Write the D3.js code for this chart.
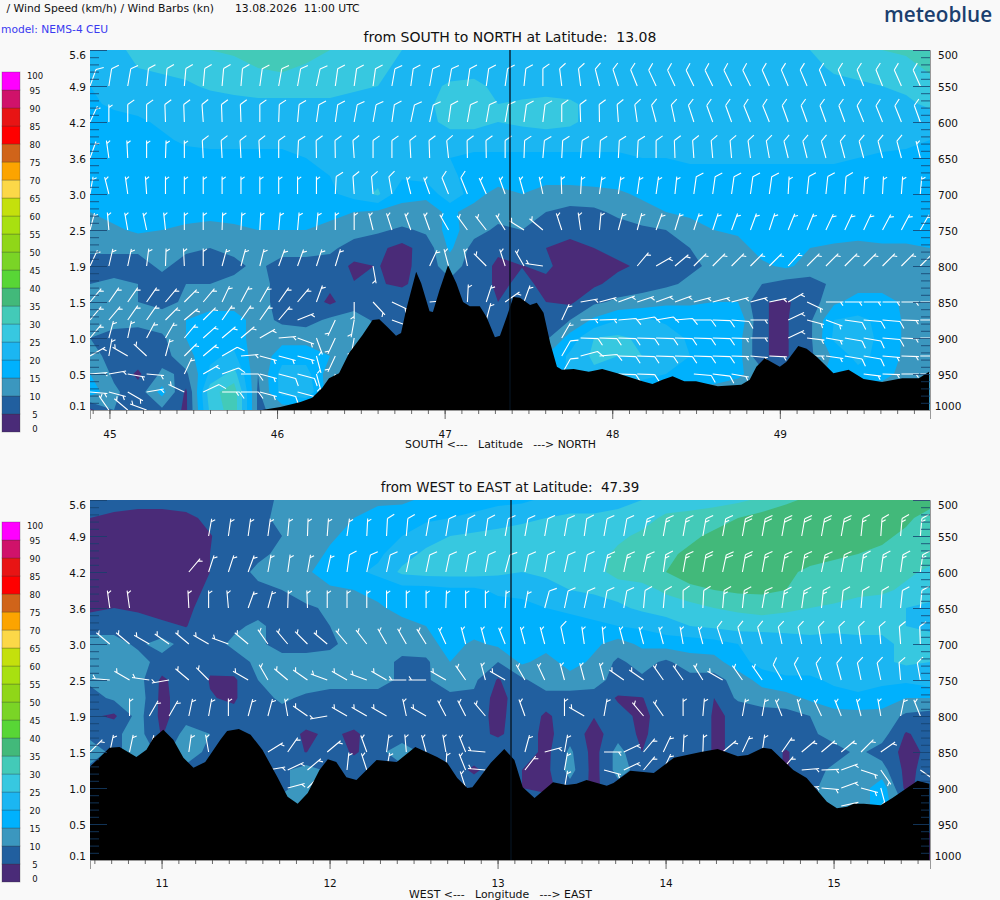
<!DOCTYPE html>
<html>
<head>
<meta charset="utf-8">
<script src="https://cdn.jsdelivr.net/npm/d3@7"></script>
<style>
html, body { margin: 0; padding: 0; background: #f9f9f9; }
text { font-family: "DejaVu Sans", sans-serif; fill: #111; white-space: pre; }
</style>
</head>
<body>
<div id="mainDiv"></div>
<script>
const _ = null;

// legend classes, km/h
const legendLabels = [100, 95, 90, 85, 80, 75, 70, 65, 60, 55, 50, 45, 40, 35, 30, 25, 20, 15, 10, 5, 0];
const bandEdges = [5, 10, 15, 20, 25, 30, 35, 40, 45, 50, 55, 60, 65, 70, 75, 80, 85, 90, 95];
const bandColors = ["#4a2b78", "#215f9f", "#3b97bf", "#00b1fd", "#1bb6f2", "#37c8e0", "#43cab8", "#42b97a", "#58d636", "#7ad426",
  "#90d618", "#a8e010", "#c4e00c", "#fcd848", "#fca400", "#d0641a", "#ff0000", "#e81414", "#d0126a", "#ff00ff"];

// axes
const pressureTicks = [500, 550, 600, 650, 700, 750, 800, 850, 900, 950, 1000];
const heightTicks = ["5.6", "4.9", "4.2", "3.6", "3.0", "2.5", "1.9", "1.5", "1.0", "0.5", "0.1"];
const latTicks = [45, 46, 47, 48, 49];
const lonTicks = [11, 12, 13, 14, 15];

// wind speed km/h, one row per 25 hPa from 500 down, one column per 0.143 deg
const nsSpeed = [
  [22,24,26,27,28,30, 31,32,33,33,30,28, 27,25,23,22,21,21, 20,20,20,20,21,22, 22,22,22,22,22,23, 25,27,28,30,31,33],
  [21,22,25,26,27,27, 28,30,31,29,28,27, 26,24,23,22,22,22, 22,22,22,22,22,22, 22,22,22,22,22,22, 23,26,27,27,28,31],
  [20,21,22,23,24,26, 27,27,27,27,27,26, 25,23,23,26,27,23, 22,22,22,22,22,22, 22,22,22,22,22,22, 22,23,24,25,26,28],
  [19,21,22,22,22,22, 23,24,24,24,24,23, 23,23,24,27,27,25, 26,27,26,23,22,22, 22,22,22,22,22,22, 22,22,22,23,24,26],
  [18,18,19,21,22,22, 22,22,22,22,22,22, 22,22,23,27,27,25, 26,27,26,23,22,22, 22,22,22,22,22,22, 22,22,22,22,22,22],
  [17,17,18,19,21,21, 21,21,21,22,22,22, 22,22,22,22,22,22, 22,22,22,22,22,22, 22,22,22,22,22,22, 22,22,22,22,21,20],
  [17,17,17,17,18,19, 19,19,19,20,22,22, 22,22,22,20,19,19, 19,19,19,19,19,20, 20,21,21,21,21,21, 21,21,20,19,19,18],
  [17,17,17,17,17,17, 17,17,17,17,20,22, 23,21,22,21,18,18, 18,18,18,18,18,18, 18,18,18,18,18,18, 18,18,18,18,18,17],
  [17,17,17,17,17,17, 17,17,17,17,19,22, 26,16,16,24,17,13, 15,12,12,13,14,16, 18,19,19,19,19,18, 19,19,18,18,18,18],
  [15,17,18,18,17,16, 17,18,18,18,16,15, 14,14,13,16,13,12, 12,10,9,9,11,13, 15,16,18,18,18,18, 18,18,18,18,18,18],
  [13,14,16,15,14,14, 14,15,15,15,14,12, 11,9,11,17,12,9, 10,8,7,8,8,9, 10,13,15,16,18,18, 18,18,18,18,18,18],
  [11,11,11,11,11,10, 11,12,12,12,11,8, 6,3.5,7,16,8,6, 8,5,3,5,7,7, 8,10,12,13,17,17, 15,14,13,14,14,15],
  [8,8,8,11,8,8, 9,11,8,8,8,4, 5.2,3,8,12,8,4, 4.9,5.8,3,3,4,6, 8,9,11,12,14,16, 13,13,13,13,13,13],
  [10,11,10,8,10,10, 11,11,9,8,6,5.2, 5.5,4,8,9,8,4, 6,4,3,4,7,8, 9,11,12,13,10,8, 8,11,13,13,13,13],
  [11,11,10,8,11,12, 12,12,8,8,4,8, 8,9,8,8,8,5, 8,5,4,9,11,12, 14,14,15,15,5.2,4.5, 7,14,17,17,14,13],
  [12,12,12,13,15,18, 18,12,9,8,11,12, 9,9,9,9,9,5, 9,9,10,16,20,21, 19,19,19,19,5.2,4.5, 9,20,21,19,14,13],
  [10,8,7,9,15,18, 18,12,13,13,13,13, 11,10,10,10,10,9, 9,9,17,25,26,24, 23,19,19,17,5.2,4.5, 9,21,22,19,14,13],
  [11,9,8,8,13,19, 21,11,18,18,15,12, 12,12,12,12,12,12, 12,15,21,26,25,25, 22,20,19,17,5.2,4.5, 9,16,22,18,14,13],
  [15,9,4,11,9,21, 27,10,22,22,12,12, 12,12,12,12,12,12, 12,12,22,24,24,24, 20,19,19,16,12,12, 12,17,18,17,13,13],
  [18,11,7,17,4,28, 33,9,22,24,12,12, 12,12,12,12,12,12, 12,12,12,12,12,12, 12,12,12,12,12,12, 12,12,12,12,12,12],
  [4,10,8,9,4,26, 33,9,12,12,12,12, 12,12,12,12,12,12, 12,12,12,12,12,12, 12,12,12,12,12,12, 12,12,12,12,12,12]
];

const weSpeed = [
  [7,7,7,7,7,7, 7,8,11,12,12,13, 14,14,16,18,18,19, 19,21,22,22,23,25, 27,27,28,29,31,34, 36,37,37,37,37,37],
  [5,4,3,3,4,6, 7,8,12,12,13,15, 17,18,19,20,21,22, 24,25,26,26,27,28, 31,32,33,35,37,38, 38,38,39,39,36,33],
  [3,3,3,3,3,4.8, 7,8,10,12,14,17, 18,20,23,25,26,27, 27,27,28,28,29,31, 33,34,36,37,38,38, 38,38,37,36,34,33],
  [3,3,3,3,3,5, 7,9,11,12,16,18, 19,23,26,27,27,27, 27,27,27,28,31,33, 34,36,37,38,38,38, 37,36,35,34,33,32],
  [3,3,3,3,3,5, 8,11,12,14,18,19, 21,26,27,27,27,26, 25,26,27,28,32,33, 35,37,38,38,37,36, 34,33,32,32,31,29],
  [3,3,3,3,3,6, 8,9,10,13,14,15, 17,18,18,19,19,21, 22,23,25,26,27,28, 31,34,35,36,36,35, 34,33,32,31,29,27],
  [4,5,4,3,4,7, 8,8,8,9,11,12, 14,17,18,18,18,18, 18,20,21,22,24,26, 27,28,30,31,32,31, 30,29,27,27,25,24],
  [8,8,8,6,4.8,8, 9,11,8,9,10,11, 12,13,15,17,18,18, 18,18,18,19,20,21, 23,25,26,27,27,27, 28,27,27,26,25,24],
  [12,12,9,12,8,8, 11,11,8,8,9,12, 12,12,13,17,14,16, 16,17,19,16,13,16, 17,17,18,20,21,22, 22,22,23,24,26,27],
  [12,13,12,8,8,5.6, 8,11,12,12,12,12, 12,9,9,15,12,10, 16,13,17,14,9,12, 9,13,13,18,22,23, 23,23,23,24,26,25],
  [11,12,12,4,8,4.8, 4.2,10,12,13,12,12, 12,9,9,14,11,4.5, 9,13,13,12,8,9, 9,8,8,12,17,19, 19,21,22,21,21,23],
  [8,11,13,3.5,8,5.2, 4.5,8,11,9,8,8, 8,8,8,8,9,3, 8,8,8,8,4.5,4.8, 8,8,5,11,12,13, 16,18,19,18,15,15],
  [6,4,12,3.5,8,8, 6,8,8,8,7,8, 8,8,8,8,8,3, 9,4,8,5.2,6.5,4, 7,9,4.5,5.6,8,8, 10,13,13,13,9,8],
  [9,9,12,4.5,12,10, 8,8,8,4,6,4, 8,8,8,8,7,4, 8,3.5,8,3,8,4, 8,9,4.5,5.6,9,8, 9,12,12,12,4.5,7],
  [12,9,12,9,12,9, 8,8,8,4.8,9,4, 9,12,9,7,8,9, 8,3.5,11,3,12,5, 8,9,4.5,5.6,8,4.5, 8,8,11,8,3.5,6],
  [9,9,9,9,9,9, 9,9,9,12,9,9, 9,9,9,8,4,8, 5,3.5,12,3,12,8, 8,8,8,8,8,4.5, 8,11,12,12,3.5,7],
  [9,9,9,9,9,9, 9,9,9,12,9,9, 9,9,9,8,8,8, 5,3.5,8,4,8,8, 8,8,8,8,8,8, 9,12,12,18,3.5,8],
  [9,9,9,9,9,9, 9,9,12,12,9,9, 9,9,9,9,9,9, 9,9,9,9,9,9, 9,9,9,9,9,9, 9,12,12,18,9,9],
  [9,9,9,9,9,9, 9,9,9,9,9,9, 9,9,9,9,9,9, 9,9,9,9,9,9, 9,9,9,9,9,9, 9,9,9,9,9,9]
];

// barb staff direction in degrees, 0 = staff points up, by pressure level
const barbLevels = [550, 600, 650, 700, 750, 800, 850, 875, 900, 925, 950, 975, 1000];
const nsBarbs = [
  [20,9,10,6,5,5,5,5,5,8,10,10,12, 8,8,8,10,8,10,10,8,8,8,6,0,-7,-7,-14,-18,-22,-25, -25,-26,-26,-26,-26,-24,-23,-23,-22,-22,-22,-22,-24,-24],
  [25,0,0,0,-2,-2,-4,-2,-2,0,2,5,8, 8,10,10,8,12,12,8,10,10,10,8,7,0,-2,-1,-4,-8,-15, -12,-18,-20,-20,-22,-22,-20,-20,-20,-20,-22,-22,-22,-20],
  [20,-8,-3,0,2,0,-3,-3,-3,-3,0,3,-1, -1,-4,0,0,-3,-2,-6,-1,-1,0,2,5,3,5,3,3,3,0, -2,-4,-5,-5,-8,-10,-14,-14,-15,-15,-15,-15,-15,-14],
  [10,-14,-8,-4,0,0,0,0,0,0,0,0,0, 3,-4,-5,-10,-14,-20,-22,-22,-24,-20,-16,-12,-2,3,8,8,8,8, 6,8,8,8,8,8,3,6,6,4,4,3,4,5],
  [15,-5,-10,-12,-6,0,0,2,3,3,5,5,5, 0,0,-14,-18,-20,-20,-30,-36,-38,-32,-58,-50,-18,-8,5,15,15,20, 17,18,18,20,20,18,22,22,25,25,25,28,28,30],
  [25,13,12,7,2,-3,0,15,15,14,20,20,18, 17,_,170,_,_,25,-15,-12,-45,-18,-30,-82,_,_,_,_,40,60, 50,45,45,45,45,45,42,45,45,45,45,45,45,45],
  [40,35,35,35,40,45,40,25,28,30,35,40,20, _,180,137,115,_,85,_,3,18,55,20,_,_,80,75,70,72,70, 70,75,75,75,75,78,60,115,90,90,90,90,90,90],
  [40,40,35,35,45,50,45,35,35,35,40,68,_, 205,190,_,110,_,_,_,_,15,_,_,_,25,88,88,85,80,80, 85,90,92,95,90,_,65,105,110,98,95,95,92,90],
  [40,15,12,28,30,40,48,50,50,60,85,110,160, 205,190,_,_,_,_,_,_,_,_,_,_,30,92,92,92,92,92, 92,92,92,92,90,_,65,97,100,100,100,95,93,90],
  [60,10,-60,-47,15,45,50,60,85,105,105,105,165, 205,190,_,_,_,_,_,_,_,_,_,_,30,75,85,92,92,92, 92,92,92,92,95,93,_,90,98,100,100,95,92,90],
  [85,80,100,95,_,25,60,70,90,105,105,105,165, 200,_,_,_,_,_,_,_,_,_,_,_,30,_,_,92,92,_, _,95,97,100,_,_,_,_,_,_,97,92,90,90],
  [95,105,120,80,_,-65,65,90,90,105,105,105,_, _,_,_,_,_,_,_,_,_,_,_,_,_,_,_,_,_,_, _,_,_,_,_,_,_,_,_,_,_,_,_,_],
  [-30,-35,-50,-70,_,_,_,_,_,_,_,_,_, _,_,_,_,_,_,_,_,_,_,_,_,_,_,_,_,_,_, _,_,_,_,_,_,_,_,_,_,_,_,_,_]
];
const weBarbs = [
  [_,_,_,_,_,_, 10,8,8,8,5,2,4, 8,3,3,5,10,10,8,8,10,10,10,10,8,10,10,12,10, 10,10,10,10,10,10,10,10,10,6,4,5,5],
  [_,_,_,_,_,40,18,18,20,10,8,10,12, 8,12,12,12,12,12,10,10,15,12,10,12,10,12,12,12,8, 10,10,12,10,10,10,10,12,10,8,8,8,8],
  [_,-8,-8,_,_,-3,0,-5,20,15,2,-2,0, 0,0,0,0,0,2,0,0,3,10,15,12,12,10,10,5,5, 0,3,5,6,10,8,8,6,6,5,4,6,5],
  [_,-50,-50,-60,-55,-50,-60,-70,-50,-35,-40,-45,-50, -40,-38,-30,-30,-32,-25,-15,-15,-22,-15,-15,-12,-8,-6,-15,-15,-15, -10,-15,-18,-15,-15,-12,-12,-10,-8,-8,-5,-4,-2],
  [_,-85,-60,-82,-100,-50,-45,_,-60,-30,-50,-55,-70, -60,-70,-60,-90,-90,-60,-35,-15,-60,-30,-25,-15,-15,-15,-55,-55,-35, -35,-32,-60,-35,-35,-30,-25,-18,-15,-12,-12,-5,-10],
  [_,_,0,30,30,12,10,0,15,15,-10,-55,-100, -60,-60,-60,-12,-60,-28,-27,-40,_,-20,_,0,-60,10,_,-40,-35, 0,5,_,10,10,-22,-15,-25,-22,-15,-10,12,-22],
  [45,12,12,15,_,8,-10,_,_,58,35,_,50, _,-20,8,-5,-15,-10,-22,-85,_,15,75,10,_,90,65,40,25, 3,2,50,25,8,35,50,50,50,45,55,_,_],
  [_,_,_,_,_,_,_,_,_,80,65,50,_, 6,-18,10,_,_,3,-22,-85,_,38,_,10,_,105,65,40,25, _,_,_,_,_,40,85,88,70,108,145,_,125],
  [_,_,_,_,_,_,_,_,_,_,75,45,_, _,_,_,_,_,_,-18,_,_,_,_,10,_,_,_,_,_, _,_,_,_,_,_,85,95,70,105,165,_,_],
  [_,_,_,_,_,_,_,_,_,_,_,_,_, _,_,_,_,_,_,_,_,_,_,_,_,_,_,_,_,_, _,_,_,_,_,_,_,_,78,_,_,_,_]
];

// ground profile along each section: degrees and pressure of the surface
const nsTerrainLat = [44.88,45.91,46.02,46.14,46.21,46.27,46.31,46.37,46.43,46.51,46.57,46.61,46.66,46.71,46.74,46.77,46.83,46.86,46.91,46.93,46.97,47.02,47.07,47.11,47.15,47.21,47.25,47.30,47.33,47.37,47.41,47.45,47.51,47.55,47.59,47.63,47.67,47.70,47.77,47.86,47.94,48.03,48.10,48.18,48.24,48.30,48.36,48.43,48.50,48.63,48.77,48.82,48.86,48.91,49.00,49.04,49.11,49.16,49.22,49.32,49.41,49.50,49.61,49.73,49.83,49.89];
const nsTerrainHpa = [1000,1000,996,989,983,969,956,949,921,896,875,874,885,897,893,861,808,824,863,864,833,799,824,850,856,856,871,899,897,871,843,844,854,851,865,907,940,944,943,947,943,949,954,960,964,958,953,960,960,967,965,958,940,928,940,933,911,915,926,949,944,957,961,956,956,947];
const weTerrainLon = [10.57,10.63,10.69,10.75,10.85,10.91,10.95,11.01,11.07,11.13,11.19,11.26,11.35,11.39,11.46,11.53,11.60,11.69,11.75,11.81,11.87,11.94,11.99,12.04,12.10,12.16,12.22,12.28,12.40,12.51,12.64,12.70,12.76,12.82,12.85,12.96,13.04,13.10,13.15,13.22,13.33,13.41,13.47,13.53,13.65,13.69,13.79,13.93,14.05,14.21,14.31,14.43,14.49,14.58,14.63,14.76,14.84,14.96,15.02,15.08,15.12,15.18,15.28,15.35,15.50,15.57];
const weTerrainHpa = [871,858,844,843,857,847,831,819,833,858,872,864,833,821,818,826,847,885,912,922,907,875,860,864,885,889,875,861,864,843,857,865,886,900,899,865,846,861,899,914,892,896,894,889,897,893,876,879,858,850,846,856,854,844,846,875,886,919,928,926,922,922,924,914,890,894];

var svg = d3.select("#mainDiv").append("svg").attr("width", 1000).attr("height", 900).style("display", "block");

// one barb as a path, staff from the grid point to the tip, feathers clockwise of it
function barbPath(px, py, deg, kmh) {
  var a = deg * Math.PI / 180, f = a + 55 * Math.PI / 180;
  var ux = Math.sin(a), uy = -Math.cos(a), fx = Math.sin(f), fy = -Math.cos(f);
  var L = 17.5;
  var d = "M" + px + "," + py + "L" + (px + ux * L) + "," + (py + uy * L);
  function feather(at, len) {
    var bx = px + ux * at, by = py + uy * at;
    d += "M" + bx + "," + by + "L" + (bx + fx * len) + "," + (by + fy * len);
  }
  if (kmh < 18.5) feather(L - 3, 4.5);
  else if (kmh < 29.5) feather(L, 8);
  else if (kmh < 37) { feather(L, 8); feather(L - 3.5, 4.5); }
  else { feather(L, 8); feather(L - 3.5, 8); }
  return d;
}

function drawPanel(o) {
  var x = d3.scaleLinear().domain(o.xDomain).range([90, 930]);
  var y = d3.scaleLinear().domain([500, 1000]).range([o.top, o.top + 360]);
  var nCols = o.speed[0].length, nRows = o.speed.length;
  var colStep = (o.xDomain[1] - o.xDomain[0]) / (nCols - 1);
  var g = svg.append("g");

  g.append("clipPath").attr("id", o.id).append("rect")
      .attr("x", 90).attr("y", o.top).attr("width", 840).attr("height", 360);
  var plot = g.append("g").attr("clip-path", "url(#" + o.id + ")");

  plot.append("rect").attr("x", 90).attr("y", o.top).attr("width", 840).attr("height", 360)
      .attr("fill", bandColors[0]);

  // contour grid coordinates sit half a cell off the sample points
  var toPixels = d3.geoTransform({
    point: function(c, r) {
      this.stream.point(x(o.xDomain[0] + (c - 0.5) * colStep), y(500 + (r - 0.5) * 25));
    }
  });
  var contours = d3.contours().size([nCols, nRows]).thresholds(bandEdges)(o.speed.flat());
  plot.selectAll("path.band").data(contours).enter().append("path")
      .attr("class", "band")
      .attr("d", d3.geoPath(toPixels))
      .attr("fill", function(d) { return bandColors[bandEdges.indexOf(d.value) + 1]; });

  function speedAt(xv, p) {
    var c = (xv - o.xDomain[0]) / colStep, r = (p - 500) / 25;
    var c0 = Math.max(0, Math.min(nCols - 2, Math.floor(c))), r0 = Math.max(0, Math.min(nRows - 2, Math.floor(r)));
    var tc = c - c0, tr = r - r0;
    return (o.speed[r0][c0] * (1 - tc) + o.speed[r0][c0 + 1] * tc) * (1 - tr) +
           (o.speed[r0 + 1][c0] * (1 - tc) + o.speed[r0 + 1][c0 + 1] * tc) * tr;
  }

  var barbStep = o.barbStepPx / (840 / (o.xDomain[1] - o.xDomain[0]));
  o.barbs.forEach(function(row, i) {
    row.forEach(function(dir, k) {
      if (dir === null) return;
      var xv = o.xDomain[0] + k * barbStep, p = barbLevels[i];
      plot.append("path")
          .attr("d", barbPath(x(xv), y(p), dir, speedAt(xv, p)))
          .attr("fill", "none").attr("stroke", "#fff").attr("stroke-width", 1.1);
    });
  });

  var area = d3.area()
      .x(function(d) { return x(d[0]); })
      .y0(o.top + 360)
      .y1(function(d) { return y(d[1]); });
  plot.append("path").attr("d", area(d3.zip(o.terrainX, o.terrainP))).attr("fill", "#000");

  plot.append("line").attr("x1", x(o.cut)).attr("x2", x(o.cut)).attr("y1", o.top).attr("y2", o.top + 360)
      .attr("stroke", "#06121e").attr("stroke-width", 1.3);

  // axes
  var minorP = d3.range(500, 1001, 10).filter(function(p) { return p % 50 != 0; });
  var tickColor = "#15406c";
  function styleAxis(a, color) {
    a.selectAll("line").attr("stroke", color).attr("stroke-width", 0.8);
    a.select(".domain").attr("stroke", "#999").attr("stroke-width", 1);
    a.selectAll("text").style("font-family", '"DejaVu Sans", sans-serif').style("font-size", "10.5px").attr("fill", "#111");
  }
  var left = g.append("g").attr("transform", "translate(90,0)")
      .call(d3.axisLeft(y).tickValues(pressureTicks).tickSize(-17).tickPadding(4)
        .tickFormat(function(p, i) { return heightTicks[i]; }));
  styleAxis(left, tickColor);
  left.select(".domain").remove();
  var leftMinor = g.append("g").attr("transform", "translate(90,0)")
      .call(d3.axisLeft(y).tickValues(minorP).tickSize(-9).tickFormat(""));
  styleAxis(leftMinor, tickColor);
  leftMinor.select(".domain").remove();

  var right = g.append("g").attr("transform", "translate(930,0)")
      .call(d3.axisRight(y).tickValues(pressureTicks).tickSize(-17).tickFormat(d3.format("d")));
  styleAxis(right, tickColor);
  right.selectAll("text").attr("text-anchor", "middle").attr("x", 18);
  right.select(".domain").attr("stroke", "#999");
  var rightMinor = g.append("g").attr("transform", "translate(930,0)")
      .call(d3.axisRight(y).tickValues(minorP).tickSize(-9).tickFormat(""));
  styleAxis(rightMinor, tickColor);
  rightMinor.select(".domain").remove();

  // end labels sit inside the axis range
  [left, right].forEach(function(a) {
    a.selectAll("text").attr("dy", function(d) {
      return d == 500 ? "0.85em" : d == 1000 ? "-0.05em" : "0.4em";
    });
  });

  var major = g.append("g").attr("transform", "translate(0," + (o.top + 360) + ")")
      .call(d3.axisBottom(x).tickValues(o.xTicks).tickSize(9).tickPadding(o.tickPad).tickFormat(d3.format("d")));
  styleAxis(major, "#444");
  var minorX = d3.range(Math.ceil(o.xDomain[0] * 10), Math.floor(o.xDomain[1] * 10) + 1).map(function(v) { return v / 10; });
  var minor = g.append("g").attr("transform", "translate(0," + (o.top + 360) + ")")
      .call(d3.axisBottom(x).tickValues(minorX).tickSize(4).tickFormat(""));
  styleAxis(minor, "#444");
  minor.select(".domain").remove();

  g.append("text").attr("x", 510).attr("y", o.top - 8.5).attr("text-anchor", "middle")
      .style("font-size", o.titleSize).text(o.title);
  g.append("text").attr("x", 500.5).attr("y", o.top + 398).attr("text-anchor", "middle")
      .style("font-size", "10.9px").text(o.axisLabel);

  // colour legend
  var leg = d3.scaleLinear().domain([0, 100]).range([o.top + 382, o.top + 22]);
  var legend = g.append("g");
  legend.selectAll("rect").data(bandColors).enter().append("rect")
      .attr("x", 2).attr("width", 18)
      .attr("y", function(d, i) { return leg((i + 1) * 5); })
      .attr("height", function(d, i) { return leg(i * 5) - leg((i + 1) * 5); })
      .attr("fill", function(d) { return d; })
      .attr("stroke", "#333").attr("stroke-opacity", 0.35).attr("stroke-width", 0.8);
  legend.selectAll("text").data(legendLabels).enter().append("text")
      .attr("x", 35).attr("text-anchor", "middle")
      .attr("y", function(d) { return leg(d) + (d == 100 ? 6.5 : d == 0 ? 0 : 4); })
      .style("font-size", "8.5px")
      .text(function(d) { return d; });
}

svg.append("text").attr("x", 3).attr("y", 12).style("font-size", "10.8px").text(" / Wind Speed (km/h) / Wind Barbs (kn)");
svg.append("text").attr("x", 235).attr("y", 12).style("font-size", "10.8px").text("13.08.2026  11:00 UTC");
svg.append("text").attr("x", 1).attr("y", 33).style("font-size", "10.7px").style("fill", "#3a3af0").text("model: NEMS-4 CEU");
svg.append("text").attr("x", 884).attr("y", 22).style("font-family", '"Open Sans", sans-serif').style("font-weight", 600)
    .style("font-size", "20.7px").style("fill", "#1b3f6e").text("meteoblue");

drawPanel({
  id: "clipNS", top: 50, xDomain: [44.884, 49.896], xTicks: latTicks, cut: 47.39,
  speed: nsSpeed, barbs: nsBarbs, barbStepPx: 18.87, tickPad: 11.5,
  terrainX: nsTerrainLat, terrainP: nsTerrainHpa, titleSize: "14px",
  title: "from SOUTH to NORTH at Latitude:  13.08",
  axisLabel: "SOUTH <---   Latitude   ---> NORTH"
});
drawPanel({
  id: "clipWE", top: 500, xDomain: [10.574, 15.574], xTicks: lonTicks, cut: 13.08,
  speed: weSpeed, barbs: weBarbs, barbStepPx: 19.77, tickPad: 11,
  terrainX: weTerrainLon, terrainP: weTerrainHpa, titleSize: "13.4px",
  title: "from WEST to EAST at Latitude:  47.39",
  axisLabel: "WEST <---   Longitude   ---> EAST"
});
</script>
</body>
</html>
